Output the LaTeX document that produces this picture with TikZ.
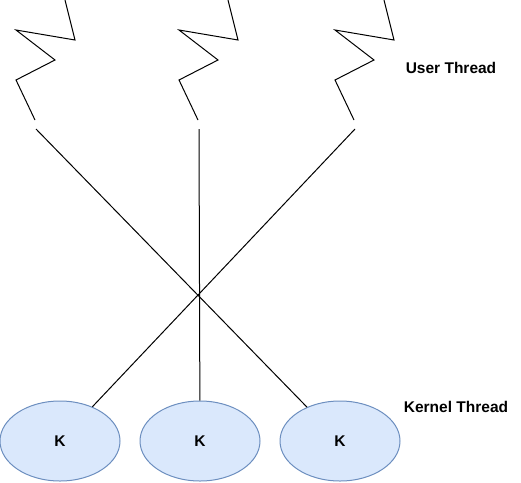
\documentclass[tikz,border=0pt]{standalone}
\usepackage{fontspec}
\setmainfont{Liberation Sans}
\usetikzlibrary{shapes.geometric}

\begin{document}
\begin{tikzpicture}[x=1pt, y=-1pt, line width=1pt,
                    kthread/.style={ellipse, draw=kborder, fill=kfill, minimum width=120pt, minimum height=80pt, inner sep=0, font=\fontsize{15.5}{18}\selectfont\bfseries},
                    zigzag/.style ={draw=black, line join=miter},
                    link/.style   ={-, draw, color=black},
                    label/.style  ={rectangle, draw opacity=0, font=\fontsize{15.5}{18}\selectfont\bfseries}]
      \definecolor{kfill}{HTML}{DAE8FC}
      \definecolor{kborder}{HTML}{6C8EBF}
      \useasboundingbox (0,0) rectangle (521,482);

      % user threads
      \foreach \dx/\n in {0/1, 163/2, 319/3}{
        \path[zigzag] (65+\dx,0) -- (75+\dx,40) -- (16+\dx,30) -- (55+\dx,60)
                      -- (16+\dx,80) -- (35+\dx,120);
        \coordinate (u\n) at (36+\dx,129);
      }
      \node[label] at(451,68)  (ulabel) {User Thread};

      % kernel threads
      \node[kthread] at(60,441)  (k1) {K};
      \node[kthread] at(200,441) (k2) {K};
      \node[kthread] at(340,441) (k3) {K};
      \node[label]   at(456,407) (klabel) {Kernel Thread};

      \path[link] (u1) -- (k3);
      \path[link] (u2) -- (k2);
      \path[link] (u3) -- (k1);
\end{tikzpicture}
\end{document}
